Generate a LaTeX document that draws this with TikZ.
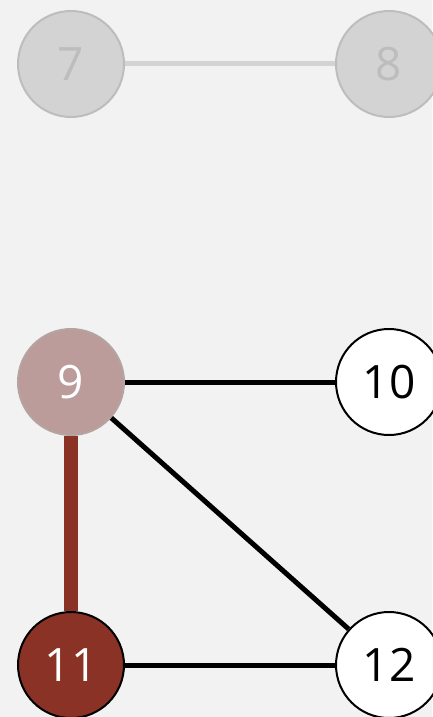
\documentclass[tikz,border=0pt]{standalone}
\usepackage{fontspec}
\setsansfont{Open Sans}
\usepackage{xcolor}
\usepackage{tikz}
\definecolor{bg}{HTML}{F2F2F2}
\definecolor{greyfill}{HTML}{D3D3D3}
\definecolor{greyline}{HTML}{BDBDBD}
\definecolor{rosefill}{HTML}{BC9C9A}
\definecolor{roseline}{HTML}{B5A3A2}
\definecolor{rust}{HTML}{8B3226}
\tikzset{
  vertex/.style={circle,minimum size=106pt,inner sep=0pt,line width=2pt,
    font=\sffamily\fontsize{46}{46}\selectfont},
  faded/.style={vertex,draw=greyline,fill=greyfill,text=greyline},
  visited/.style={vertex,draw=roseline,fill=rosefill,text=white},
  current/.style={vertex,draw=black,fill=rust,text=white},
  fresh/.style={vertex,draw=black,fill=white,text=black},
  edge/.style={line width=5pt},
}

\begin{document}
\begin{tikzpicture}[x=1pt,y=-1pt]
			
			% Hintergrund
			\fill[bg] (0,0) rectangle (432,717);
			\useasboundingbox (0,0) rectangle (432,717);
			
			% Knoten
			\node[faded] (n7) at (71,64) {7};
			\node[faded] (n8) at (389,64) {8};
			\node[visited] (n9) at (71,382) {9};
			\node[fresh] (n10) at (389,382) {10};
			\node[current] (n11) at (71,665) {11};
			\node[fresh] (n12) at (389,665) {12};
			
			% Kanten
			\draw[edge,greyfill] (n7) -- (n8);
			\draw[edge] (n9) -- (n10);
			\draw[edge] (n9) -- (n12);
			\draw[edge] (n11) -- (n12);
			\draw[line width=14pt,rust] (n9) -- (n11);
			
		\end{tikzpicture}
\end{document}
